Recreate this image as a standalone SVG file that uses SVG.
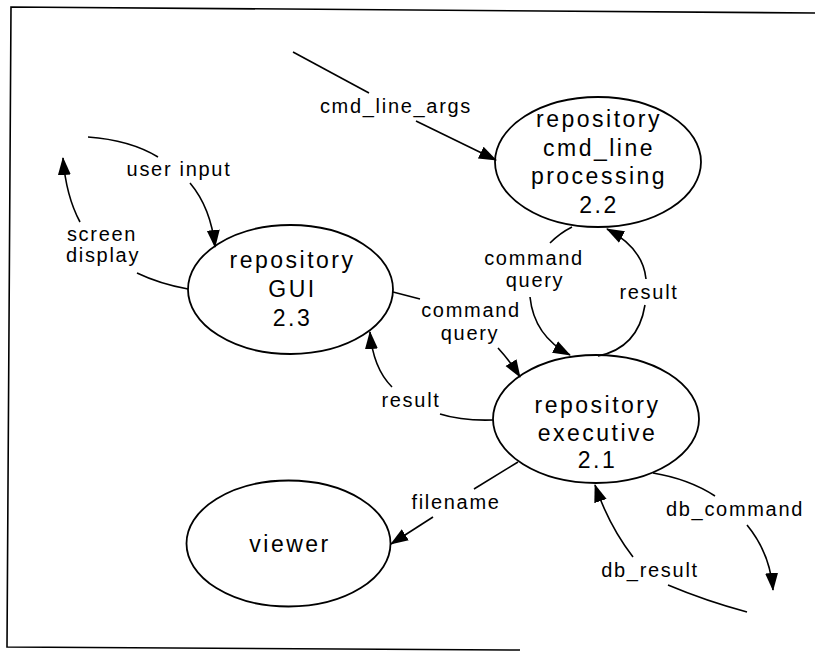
<svg xmlns="http://www.w3.org/2000/svg" width="815" height="651" viewBox="0 0 815 651">
  <defs>
    <marker id="arrow" markerUnits="userSpaceOnUse" markerWidth="18" markerHeight="14" refX="17" refY="7" orient="auto">
      <path d="M0,0.5 L18,7 L0,13.5 z" fill="#000"/>
    </marker>
    <style>
      .frame { fill: none; stroke: #000; stroke-width: 1.6; }
      .node ellipse { fill: #fff; stroke: #000; stroke-width: 1.8; }
      .node text { font-family: "Liberation Sans", Arial, Helvetica, sans-serif; font-size: 23px; letter-spacing: 2.5px; text-anchor: middle; fill: #000; }
      .edges path { fill: none; stroke: #000; stroke-width: 1.6; }
      .edges path.head { marker-end: url(#arrow); }
      .labels text { font-family: "Liberation Sans", Arial, Helvetica, sans-serif; font-size: 20px; letter-spacing: 1.7px; text-anchor: middle; fill: #000; }
    </style>
  </defs>

  <rect width="815" height="651" fill="#fff"/>

  <!-- page frame (open on the right) -->
  <path class="frame" d="M815,13 L11,7 L7,647 L520,650"/>

  <!-- processes -->
  <g id="node-cmdline" class="node">
    <ellipse cx="598" cy="162" rx="103" ry="65"/>
    <text x="599" y="127">repository</text>
    <text x="599" y="155.7">cmd_line</text>
    <text x="599" y="184.4">processing</text>
    <text x="599" y="213">2.2</text>
  </g>

  <g id="node-gui" class="node">
    <ellipse cx="290.5" cy="289.5" rx="102.5" ry="64.5"/>
    <text x="292.5" y="268">repository</text>
    <text x="292.5" y="297">GUI</text>
    <text x="292.5" y="326">2.3</text>
  </g>

  <g id="node-executive" class="node">
    <ellipse cx="596" cy="419" rx="103" ry="64"/>
    <text x="597.5" y="413">repository</text>
    <text x="597.5" y="441">executive</text>
    <text x="597.5" y="468">2.1</text>
  </g>

  <g id="node-viewer" class="node">
    <ellipse cx="288.5" cy="543.5" rx="102" ry="63"/>
    <text x="290" y="551.7">viewer</text>
  </g>

  <!-- data flows -->
  <g id="connectors" class="edges">
    <!-- cmd_line_args into 2.2 -->
    <path d="M293,52 L369,93"/>
    <path class="head" d="M416,121 L496,160"/>

    <!-- user input into GUI -->
    <path d="M88,137 Q130,140 158,157"/>
    <path class="head" d="M190,183 Q211,208 215,247"/>

    <!-- screen display out of GUI -->
    <path d="M188,289 Q160,284 137,273"/>
    <path class="head" d="M80,222 Q66,196 63,158"/>

    <!-- command query: GUI to executive -->
    <path d="M393,292 L420,299"/>
    <path class="head" d="M498,348 Q510,361 520,377"/>

    <!-- result: executive to GUI -->
    <path d="M493,420 Q462,421 440,414"/>
    <path class="head" d="M392,387 Q373,368 370,332"/>

    <!-- command query: 2.2 to executive -->
    <path d="M572,227 Q560,233 550,243"/>
    <path class="head" d="M530,297 Q534,336 570,355"/>

    <!-- result: executive to 2.2 -->
    <path d="M598,356 Q638,348 645,305"/>
    <path class="head" d="M646,279 Q643,248 607,229"/>

    <!-- filename: executive to viewer -->
    <path d="M518,462 L474,489"/>
    <path class="head" d="M433,517 L391,544"/>

    <!-- db_command out of executive -->
    <path d="M653,473 Q689,479 715,496"/>
    <path class="head" d="M747,525 Q770,553 773,590"/>

    <!-- db_result into executive -->
    <path d="M747,612 Q706,601 668,585"/>
    <path class="head" d="M633,557 Q609,526 595,485"/>
  </g>

  <g id="flow-labels" class="labels">
    <text x="396" y="113">cmd_line_args</text>
    <text x="179" y="176">user input</text>
    <text x="102" y="241">screen</text>
    <text x="103" y="262">display</text>
    <text x="471" y="317">command</text>
    <text x="470" y="340">query</text>
    <text x="411" y="407">result</text>
    <text x="534" y="265">command</text>
    <text x="535" y="287">query</text>
    <text x="649" y="299">result</text>
    <text x="456" y="509">filename</text>
    <text x="735" y="516">db_command</text>
    <text x="650" y="577">db_result</text>
  </g>
</svg>
